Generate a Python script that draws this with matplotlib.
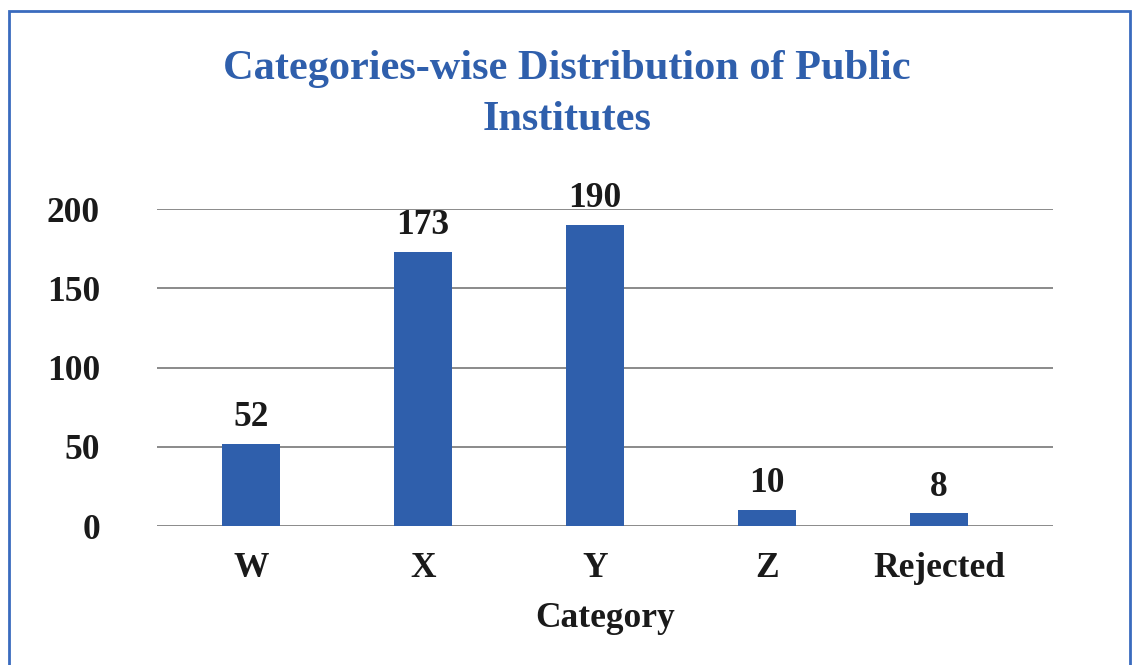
import matplotlib.pyplot as plt
from matplotlib.patches import Rectangle

categories = ["W", "X", "Y", "Z", "Rejected"]
counts = [52, 173, 190, 10, 8]
yticks = [0, 50, 100, 150, 200]

blue = "#2F5FAC"
plt.rcParams['font.family'] = ['Liberation Serif', 'DejaVu Serif']

fig = plt.figure(figsize=(11.34, 6.65), dpi=100)
ax = fig.add_axes([0.1384, 0.209, 0.7902, 0.4767])

x = range(len(categories))
bars = ax.bar(x, counts, width=0.337, color=blue, zorder=3)
for b, v in zip(bars, counts):
    ax.annotate(str(v), (b.get_x() + b.get_width() / 2, v), xytext=(0, 7),
                textcoords="offset points", ha="center", va="bottom",
                fontsize=25.5, fontweight="bold", color="#1a1a1a")

ax.set_xlim(-0.547, 4.663)
ax.set_ylim(0, 200)
ax.set_yticks(yticks)
ax.set_xticks(list(x))
ax.set_xticklabels(categories)
ax.grid(axis="y", color="#8a8a8a", linewidth=1.4, zorder=0)
for s in ax.spines.values():
    s.set_visible(False)
ax.tick_params(axis="both", length=0, labelsize=25.5, labelcolor="#1a1a1a")
ax.tick_params(axis="y", pad=41)
ax.tick_params(axis="x", pad=19)
for lbl in ax.get_xticklabels() + ax.get_yticklabels():
    lbl.set_fontweight("bold")

ax.set_xlabel("Category", fontsize=25.5, fontweight="bold", color="#1a1a1a", labelpad=12)

fig.text(0.5, 0.858, "Categories-wise Distribution of Public\nInstitutes",
         ha="center", va="center", fontsize=30.5, fontweight="bold", color=blue,
         linespacing=1.42)

fig.patches.append(Rectangle((9 / 1134, -0.1), 1121 / 1134, 1.1 - 11 / 665,
                             transform=fig.transFigure, fill=False,
                             edgecolor="#3A6BBE", linewidth=2))

plt.savefig("out.png", dpi=100)
